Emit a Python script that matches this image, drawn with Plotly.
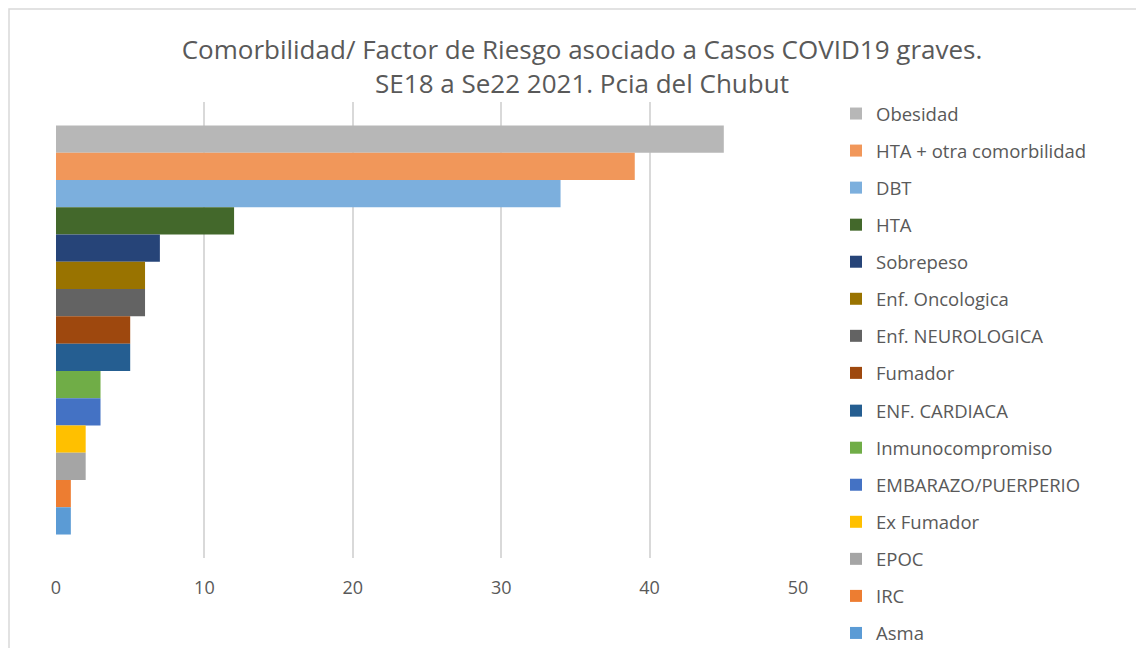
import plotly.graph_objects as go

categories = ["Obesidad", "HTA + otra comorbilidad", "DBT", "HTA", "Sobrepeso",
              "Enf. Oncologica", "Enf. NEUROLOGICA", "Fumador", "ENF. CARDIACA",
              "Inmunocompromiso", "EMBARAZO/PUERPERIO", "Ex Fumador", "EPOC", "IRC", "Asma"]
values = [45, 39, 34, 12, 7, 6, 6, 5, 5, 3, 3, 2, 2, 1, 1]
colors = ["#B7B7B7", "#F1975A", "#7CAFDD", "#43682B", "#264478",
          "#997300", "#636363", "#9E480E", "#255E91", "#70AD47",
          "#4472C4", "#FFC000", "#A5A5A5", "#ED7D31", "#5B9BD5"]
x_ticks = [0, 10, 20, 30, 40, 50]

FONT = "Open Sans"
GRAY = "#595959"
W, H = 1136, 640          # page body has an 8px margin
ML, MR, MT, MB = 48, 346, 94, 90
PW, PH = W - ML - MR, H - MT - MB
ITEM = 37.14
LEG_TOP = 87
GAP = 10

fig = go.Figure()
for i, (name, val, col) in enumerate(zip(categories, values, colors)):
    fig.add_trace(go.Bar(
        x=[val], y=["Casos"], name=name, orientation="h",
        marker=dict(color=col, line=dict(width=0)),
        legendgroup=name,
        legend="legend" if i < 8 else "legend2",
    ))

leg_common = dict(
    xref="container", xanchor="left", yref="container", yanchor="top",
    traceorder="grouped", tracegroupgap=GAP,
    font=dict(family=FONT, size=18.5, color=GRAY),
    bgcolor="rgba(0,0,0,0)",
)

fig.update_layout(
    width=W, height=H,
    paper_bgcolor="white", plot_bgcolor="white",
    barmode="group", bargap=0.103, bargroupgap=0,
    margin=dict(l=ML, r=MR, t=MT, b=MB, autoexpand=False),
    font=dict(family=FONT, color=GRAY, size=18),
    title=dict(
        text="Comorbilidad/ Factor de Riesgo asociado a Casos COVID19 graves.<br>SE18 a Se22 2021. Pcia del Chubut",
        x=574 / W, xref="container", xanchor="center",
        y=1 - 51 / H, yref="container", yanchor="top",
        font=dict(family=FONT, size=26, color=GRAY),
    ),
    xaxis=dict(
        range=[0, 50], tickvals=x_ticks, showgrid=True, gridcolor="#D9D9D9", gridwidth=1.5,
        zeroline=False, showline=False, ticks="", ticklabelstandoff=17,
        tickfont=dict(size=18, color=GRAY, family=FONT), fixedrange=True,
    ),
    yaxis=dict(
        autorange="reversed", showticklabels=False, showgrid=False, zeroline=False,
        showline=False, ticks="",
    ),
    legend=dict(x=828 / W, y=1 - LEG_TOP / H, **leg_common),
    legend2=dict(x=828 / W, y=1 - (LEG_TOP + 8 * ITEM) / H, **leg_common),
    shapes=[dict(type="rect", xref="paper", yref="paper",
                 x0=(1 - ML) / PW, x1=(W + 20 - ML) / PW,
                 y0=-(MB + 20) / PH, y1=1 + (MT - 1) / PH,
                 line=dict(color="#D9D9D9", width=1.5), fillcolor="rgba(0,0,0,0)", layer="below")],
)

fig.write_html("out.html")
